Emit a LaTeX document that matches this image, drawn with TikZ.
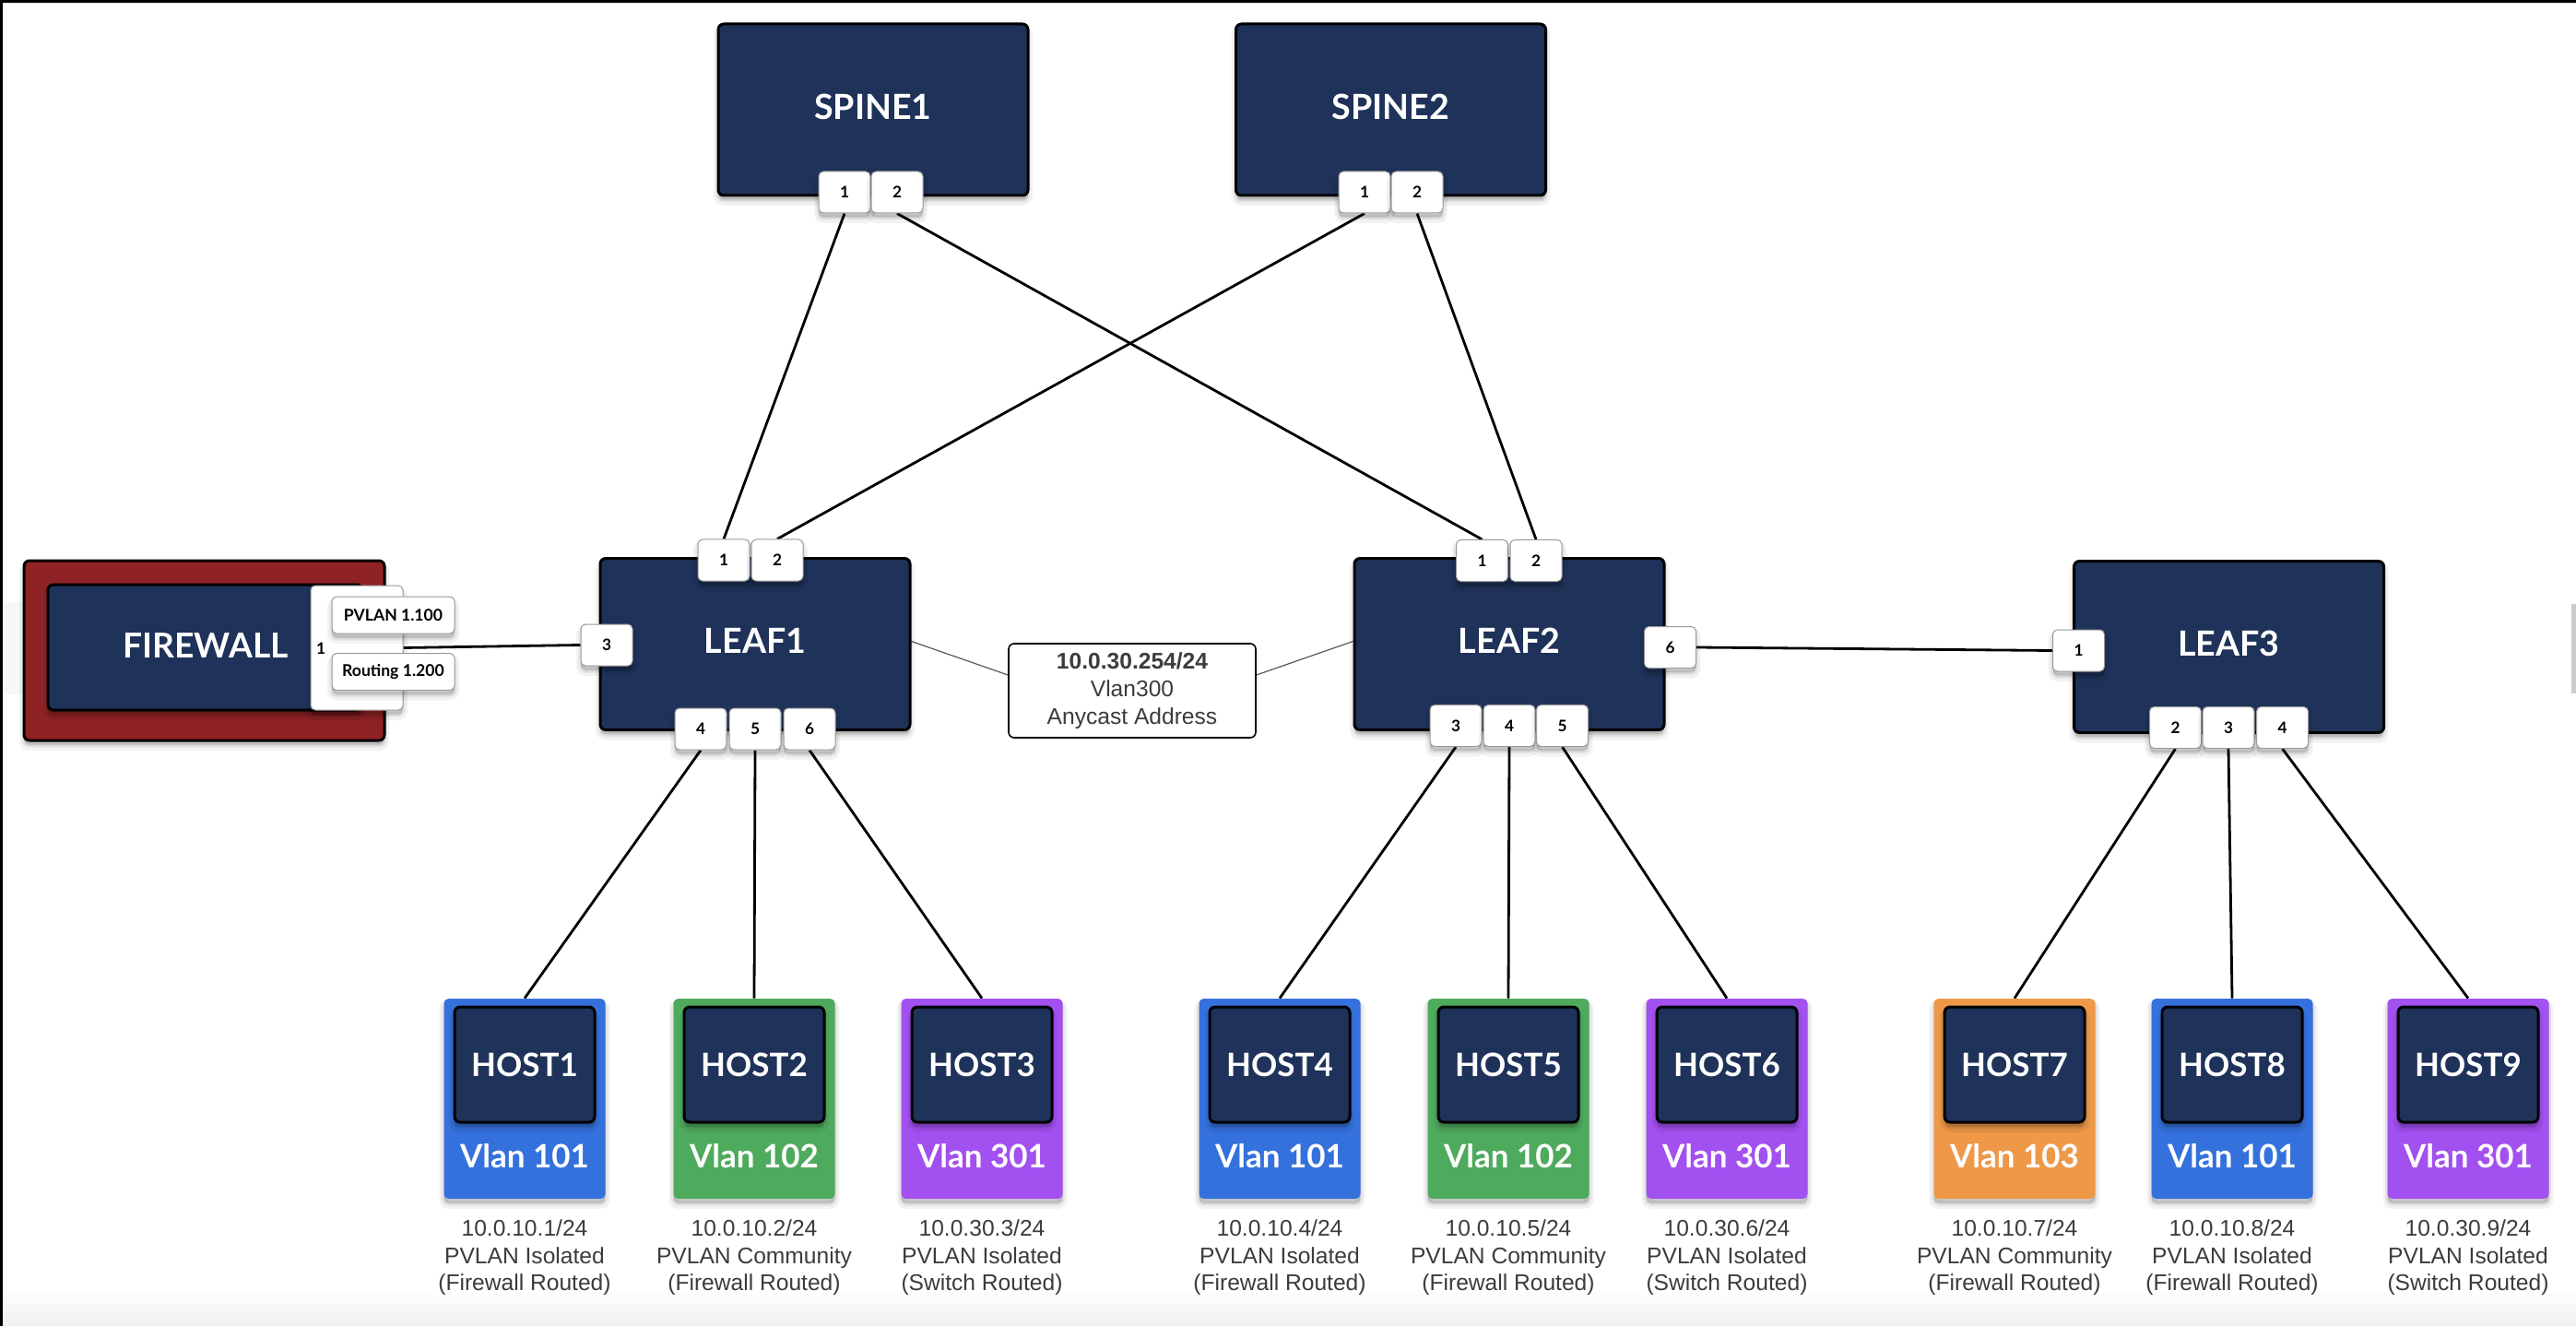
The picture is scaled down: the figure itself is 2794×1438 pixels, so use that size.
\documentclass[tikz,border=0pt]{standalone}
\usepackage{fontspec}
\setmainfont{Liberation Sans}
\newfontfamily\lato{Lato}
\usetikzlibrary{calc}
\definecolor{navy}{RGB}{31,50,89}
\definecolor{fwred}{RGB}{142,34,36}
\definecolor{hblue}{RGB}{52,113,220}
\definecolor{hgreen}{RGB}{78,170,92}
\definecolor{hpurple}{RGB}{162,80,240}
\definecolor{horange}{RGB}{238,152,72}
\definecolor{addrgray}{RGB}{60,60,60}
\pgfdeclarelayer{bg}
\pgfdeclarelayer{edges}
\pgfsetlayers{bg,edges,main}
\tikzset{
  shad/.style={
    preaction={fill=black, fill opacity=0.05, draw=black, draw opacity=0.05, line width=5pt, transform canvas={yshift=-3pt}},
    preaction={fill=black, fill opacity=0.06, draw=black, draw opacity=0.06, line width=2.5pt, transform canvas={yshift=-2.5pt}},
    preaction={fill=black, fill opacity=0.08, transform canvas={yshift=-2pt}}},
  switchbox/.style={shad, fill=navy, draw=black, line width=1.5pt, rounded corners=3pt,
    minimum width=168pt, minimum height=93pt, inner sep=0pt, text=white, text depth=3.5pt,
    font=\lato\bfseries\fontsize{18.8}{22}\selectfont},
  portbox/.style={shad, fill=white, draw=black!40, line width=0.5pt, rounded corners=2.5pt,
    minimum width=28pt, minimum height=22.5pt, inner sep=0pt,
    font=\lato\bfseries\fontsize{8.6}{10}\selectfont},
  tagbox/.style={shad, fill=white, draw=black!40, line width=0.5pt, rounded corners=2.5pt,
    minimum width=66.5pt, minimum height=20pt, inner sep=0pt,
    font=\lato\bfseries\fontsize{8.8}{10}\selectfont},
  hostouter/.style={shad, rounded corners=2.5pt, minimum width=87.5pt, minimum height=108.5pt, inner sep=0pt},
  hostinner/.style={shad, fill=navy, draw=black, line width=1.5pt, rounded corners=3pt,
    minimum width=76pt, minimum height=62.5pt, inner sep=0pt, text=white,
    font=\lato\bfseries\fontsize{17.5}{20}\selectfont},
  vlantext/.style={text=white, inner sep=0pt, font=\lato\bfseries\fontsize{17.5}{20}\selectfont},
  addr/.style={align=center, inner sep=0pt, text=addrgray, font=\fontsize{12.3}{14.7}\selectfont},
  link/.style={draw=black, line width=1.4pt},
  thinlink/.style={draw=black!65, line width=0.6pt},
}
\begin{document}
\begin{tikzpicture}[x=0.5pt,y=-0.5pt]
\useasboundingbox (0,0) rectangle (2794,1438);
\begin{pgfonlayer}{bg}
  \fill[white] (0,0) rectangle (2794,1438);
  \shade[top color=white, bottom color=black!6] (0,1396) rectangle (2794,1438);
  \fill[black!3] (3,653) rectangle (26,753);
  \fill[black!20] (2789,655) rectangle (2794,752);
  \fill[black] (0,0) rectangle (2794,3);
  \fill[black] (0,0) rectangle (3,1438);
\end{pgfonlayer}

% spines
\node[switchbox] (spine1) at (947,119) {SPINE1};
\node[switchbox] (spine2) at (1508.5,119) {SPINE2};
\node[portbox] (s1p1) at (916,208.5) {1};
\node[portbox] (s1p2) at (973,208.5) {2};
\node[portbox] (s2p1) at (1480,208.5) {1};
\node[portbox] (s2p2) at (1537,208.5) {2};

% leaves
\node[switchbox] (leaf1) at (819,698.5) {LEAF1};
\node[switchbox] (leaf2) at (1637,698.5) {LEAF2};
\node[switchbox] (leaf3) at (2417.5,701.5) {LEAF3};
\node[portbox] (l1p1) at (785,607.5) {1};
\node[portbox] (l1p2) at (843,607.5) {2};
\node[portbox] (l1p3) at (658,699.5) {3};
\node[portbox] (l1p4) at (760,790.5) {4};
\node[portbox] (l1p5) at (819,790.5) {5};
\node[portbox] (l1p6) at (878,790.5) {6};
\node[portbox] (l2p1) at (1607.5,608) {1};
\node[portbox] (l2p2) at (1666,608) {2};
\node[portbox] (l2p6) at (1811.5,702) {6};
\node[portbox] (l2p3) at (1579,787) {3};
\node[portbox] (l2p4) at (1637,787) {4};
\node[portbox] (l2p5) at (1694.5,787) {5};
\node[portbox] (l3p1) at (2254.5,705.5) {1};
\node[portbox] (l3p2) at (2359.5,789) {2};
\node[portbox] (l3p3) at (2417,789) {3};
\node[portbox] (l3p4) at (2475.5,789) {4};

% firewall
\node[shad, fill=fwred, draw=black, line width=1.5pt, rounded corners=3pt,
  minimum width=195.5pt, minimum height=97.5pt, inner sep=0pt] (fwouter) at (221.5,705.5) {};
\node[shad, fill=navy, draw=black, line width=1.5pt, rounded corners=3pt,
  minimum width=170.5pt, minimum height=68pt, inner sep=0pt] (fwinner) at (222.5,702) {};
\node[text=white, inner sep=0pt, font=\lato\bfseries\fontsize{18.6}{20}\selectfont] (fwtext) at (223,700) {FIREWALL};
\node[shad, fill=white, draw=black!40, line width=0.5pt, rounded corners=2.5pt,
  minimum width=50pt, minimum height=67.5pt, inner sep=0pt] (fwport) at (387,702.5) {};
\node[inner sep=0pt, font=\lato\bfseries\fontsize{8.6}{10}\selectfont] (fwnum) at (348,703) {1};
\node[tagbox] (tagpvlan) at (426.5,667) {PVLAN 1.100};
\node[tagbox] (tagrout) at (426.5,728.5) {Routing 1.200};

% anycast
\node[fill=white, draw=black, line width=0.8pt, rounded corners=3pt,
  minimum width=134pt, minimum height=51pt, inner sep=0pt, align=center,
  text=addrgray, font=\fontsize{12.3}{15}\selectfont] (any) at (1228,749)
  {\textbf{10.0.30.254/24}\\Vlan300\\Anycast Address};

% hosts
\foreach \n/\x/\c/\v in {1/569/hblue/101, 2/818/hgreen/102, 3/1065/hpurple/301,
  4/1388/hblue/101, 5/1636/hgreen/102, 6/1873/hpurple/301,
  7/2185/horange/103, 8/2421/hblue/101, 9/2677/hpurple/301}{
  \node[hostouter, fill=\c] (h\n) at (\x,1191.5) {};
  \node[hostinner] (hi\n) at (\x,1154.5) {HOST\n};
  \node[vlantext] (hv\n) at (\x,1254) {Vlan \v};
}
\foreach \n/\x/\ip/\ty/\rt in {1/569/10.0.10.1/Isolated/Firewall, 2/818/10.0.10.2/Community/Firewall,
  3/1065/10.0.30.3/Isolated/Switch, 4/1388/10.0.10.4/Isolated/Firewall,
  5/1636/10.0.10.5/Community/Firewall, 6/1873/10.0.30.6/Isolated/Switch,
  7/2185/10.0.10.7/Community/Firewall, 8/2421/10.0.10.8/Isolated/Firewall,
  9/2677/10.0.30.9/Isolated/Switch}{
  \node[addr] (a\n) at (\x,1364) {\ip/24\\PVLAN \ty\\(\rt{} Routed)};
}

\begin{pgfonlayer}{edges}
  \draw[link] (s1p1.south) -- (l1p1.north);
  \draw[link] (s1p2.south) -- (l2p1.north);
  \draw[link] (s2p1.south) -- (l1p2.north);
  \draw[link] (s2p2.south) -- (l2p2.north);
  \draw[link] (fwport.east) -- (l1p3.west);
  \draw[link] (l2p6.east) -- (l3p1.west);
  \draw[link] (l1p4.south) -- (h1.north);
  \draw[link] (l1p5.south) -- (h2.north);
  \draw[link] (l1p6.south) -- (h3.north);
  \draw[link] (l2p3.south) -- (h4.north);
  \draw[link] (l2p4.south) -- (h5.north);
  \draw[link] (l2p5.south) -- (h6.north);
  \draw[link] (l3p2.south) -- (h7.north);
  \draw[link] (l3p3.south) -- (h8.north);
  \draw[link] (l3p4.south) -- (h9.north);
  \draw[thinlink] ($(leaf1.east)+(0,-3)$) -- ($(any.west)+(0,-17)$);
  \draw[thinlink] ($(any.east)+(0,-17)$) -- ($(leaf2.west)+(0,-3)$);
\end{pgfonlayer}
\end{tikzpicture}
\end{document}
